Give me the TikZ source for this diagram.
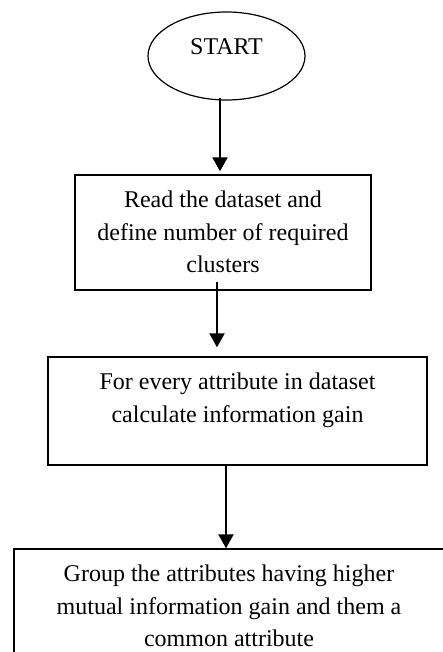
\documentclass[tikz,border=0pt]{standalone}
\usepackage{fontspec}
\setmainfont{Liberation Serif}
\usetikzlibrary{arrows.meta,shapes.geometric,positioning}

\begin{document}
\begin{tikzpicture}[x=1pt,y=-1pt,
    box/.style={draw,line width=1.4pt,inner sep=0pt},
    txt/.style={align=center,inner sep=0pt,font=\fontsize{24}{32.5}\selectfont},
    flow/.style={line width=2.2pt,-{Triangle[width=15pt,length=14pt]}}]
\useasboundingbox (0,0) rectangle (443,652);
\clip (0,0) rectangle (443,652);

\node[draw,ellipse,line width=1.2pt,minimum width=157pt,minimum height=88pt,inner sep=0pt,
      text depth=19pt,font=\fontsize{24}{32.5}\selectfont] (start) at (226.5,56) {START};

% boxes, text hangs from the top edge
\node[box,minimum width=296pt,minimum height=115pt] (read) at (223,232.5) {};
\node[txt,below=16.5pt of read.north] (readtxt) {Read the dataset and\\define number of required\\clusters};

\node[box,minimum width=379pt,minimum height=108pt] (gain) at (237.5,411) {};
\node[txt,below=16.5pt of gain.north] (gaintxt) {For every attribute in dataset\\calculate information gain};

\node[box,minimum width=430pt,minimum height=130pt] (group) at (229,614) {};
\node[txt,below=16.5pt of group.north] (grouptxt) {Group the attributes having higher\\mutual information gain and them a\\common attribute};

\draw[flow] ([xshift=-6.5pt,yshift=3pt]start.south) -- ([xshift=-6.5pt,yshift=3pt]start.south |- read.north);
\draw[flow] ([xshift=-6pt,yshift=9pt]read.south) -- ([xshift=-6pt,yshift=9pt]read.south |- gain.north);
\draw[flow] ([xshift=-11.5pt]gain.south) -- ([xshift=-11.5pt]gain.south |- group.north);
\end{tikzpicture}
\end{document}
